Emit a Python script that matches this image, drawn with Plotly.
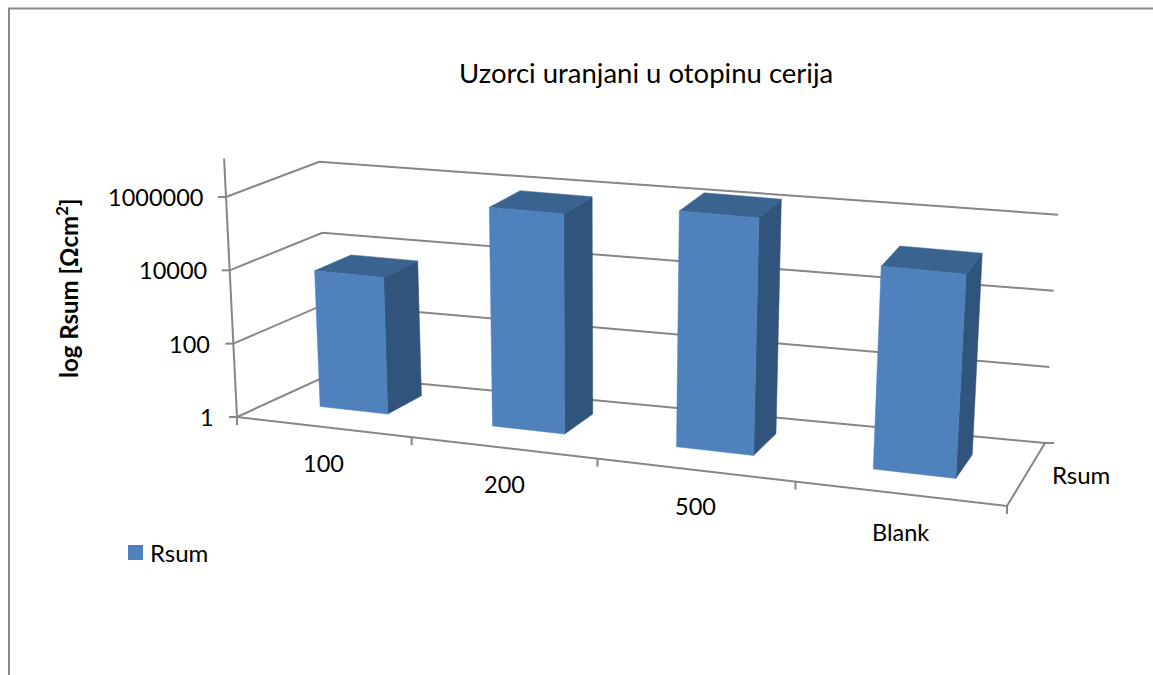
import math
import plotly.graph_objects as go

title = "Uzorci uranjani u otopinu cerija"
series_name = "Rsum"
categories = ["100", "200", "500", "Blank"]
values = [5300, 800000, 1800000, 190000]
y_ticks = [1, 100, 10000, 1000000]
y_tick_labels = ["1", "100", "10000", "1000000"]
y_title = "log Rsum [Ωcm<sup>2</sup>]"

FONT = "Lato"
GRID = "#868686"
FRONT, TOP, SIDE = "#4F81BD", "#3B6390", "#31547C"

# projected corners of the 3D box (pixels): front/back, left/right, bottom/top(=1e6)
FLB, FLT = (237, 417), (226, 197)
BLB, BLT = (328.5, 375), (319.3, 161.7)
FRB, FRT = (1007, 506), (1021, 270)
BRB, BRT = (1045, 443), (1058, 214.7)
LOG_MAX = 6
K = 0.88  # horizontal perspective


def lerp(a, b, t):
    return (a[0] + (b[0] - a[0]) * t, a[1] + (b[1] - a[1]) * t)


def project(t, d, v):
    """t: 0-1 along categories, d: 0-1 depth, v: value on the log axis."""
    u = K * t / (1 - (1 - K) * t)
    h = math.log10(v) / LOG_MAX
    bottom = lerp(lerp(FLB, FRB, u), lerp(BLB, BRB, u), d)
    top = lerp(lerp(FLT, FRT, u), lerp(BLT, BRT, u), d)
    return lerp(bottom, top, h)


xs, ys = [], []


def seg(points):
    for p in points:
        xs.append(p[0])
        ys.append(p[1])
    xs.append(None)
    ys.append(None)


fig = go.Figure()

# chart frame (only top and left are inside the picture)
seg([(9, 675), (9, 8.5), (1153, 8.5)])
fig.add_trace(go.Scatter(x=xs, y=ys, mode="lines", line=dict(color="#8A8A8A", width=2),
                         hoverinfo="skip", showlegend=False))
xs, ys = [], []

# walls
for v in y_ticks:
    seg([project(0, 0, v), project(0, 1, v), project(1, 1, v)])
    a = project(0, 0, v)
    seg([(a[0] - 8, a[1]), a])
# value axis, floor edges and ticks
seg([project(0, 0, 1), project(0, 0, 10 ** 7.05)])
seg([project(0, 0, 1), project(1, 0, 1), project(1, 1, 1)])
for i in range(len(categories) + 1):
    a = project(i / len(categories), 0, 1)
    seg([a, (a[0], a[1] + 8)])
a = project(1, 1, 1)
seg([a, (a[0] + 9, a[1])])
fig.add_trace(go.Scatter(x=xs, y=ys, mode="lines", line=dict(color=GRID, width=2),
                         hoverinfo="skip", showlegend=False))

# bars
D0, D1 = 0.38, 0.79
n = len(categories)


def bar_point(t, d, v):
    # depth lines converge slightly to the right; small leftward shift near the left side
    return project(t - 0.002 * (1 - t), d * (1 - (0.15 - (d - D0) * 0.11) * t), v)


for i, (cat, val) in enumerate(zip(categories, values)):
    t0, t1 = (i + 0.3) / n, (i + 0.7) / n
    faces = [
        (SIDE, [(t1, D0, 1), (t1, D1, 1), (t1, D1, val), (t1, D0, val)]),
        (TOP, [(t0, D0, val), (t1, D0, val), (t1, D1, val), (t0, D1, val)]),
        (FRONT, [(t0, D0, 1), (t1, D0, 1), (t1, D0, val), (t0, D0, val)]),
    ]
    for color, pts in faces:
        p = [bar_point(*q) for q in pts]
        p.append(p[0])
        fig.add_trace(go.Scatter(x=[q[0] for q in p], y=[q[1] for q in p], mode="lines",
                                 fill="toself", fillcolor=color, line=dict(color=color, width=0.5),
                                 name=cat, text=f"{cat}: {val}", hoverinfo="text", showlegend=False))

# legend
fig.add_trace(go.Scatter(x=[135.5], y=[552.5], mode="markers",
                         marker=dict(symbol="square", size=15, color=FRONT),
                         name=series_name, hoverinfo="name", showlegend=False))


def label(x, y, text, size=24, anchor="center", **kw):
    fig.add_annotation(x=x, y=y, xref="x", yref="y", text=text, showarrow=False, xanchor=anchor,
                       yanchor="middle", font=dict(family=FONT, size=size, color="#000000"), **kw)


label(148, 552, series_name, anchor="left")
label(646, 72.5, title, size=27.5)
for v, lab in zip(y_ticks, y_tick_labels):
    p = project(0, 0, v)
    label(p[0] - 21, p[1], lab, size=23.5, anchor="right")
for x, y, c in zip([323, 504, 695, 900], [463, 484, 506, 532], categories):
    label(x, y, c, size=23.5)
label(1081, 474, series_name)
label(67, 289, "<b>" + y_title + "</b>", size=24, textangle=-90)

fig.update_layout(
    width=1153, height=675, margin=dict(l=0, r=0, t=0, b=0),
    paper_bgcolor="#FFFFFF", plot_bgcolor="#FFFFFF",
    xaxis=dict(range=[0, 1153], visible=False, fixedrange=True),
    yaxis=dict(range=[675, 0], visible=False, fixedrange=True),
    showlegend=False,
)
fig.write_html("out.html", config={"displayModeBar": False},
               post_script="document.body.style.margin='0';document.body.style.overflow='hidden';")
